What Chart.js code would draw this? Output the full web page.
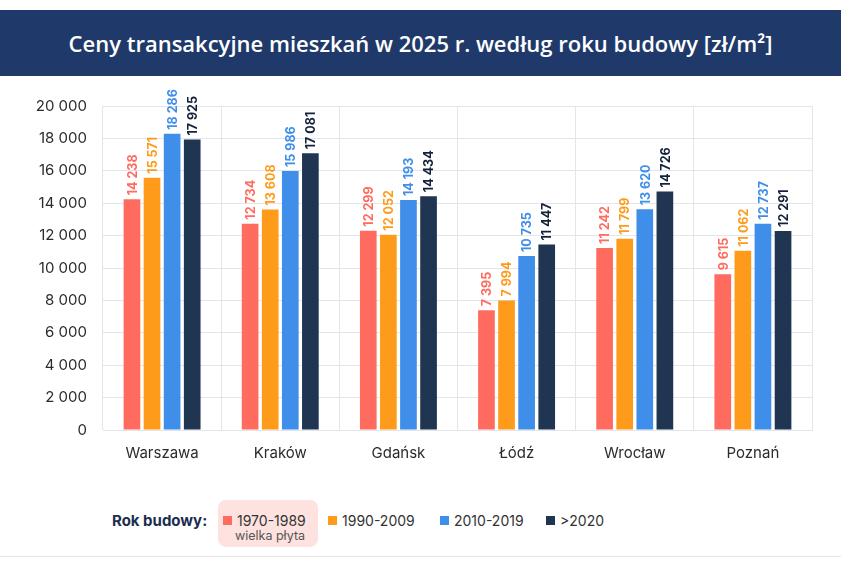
<!DOCTYPE html>
<html lang="pl">
<head>
<meta charset="utf-8">
<title>Ceny transakcyjne mieszkań</title>
<script src="https://cdn.jsdelivr.net/npm/chart.js@4/dist/chart.umd.min.js"></script>
<style>
    html, body { margin: 0; padding: 0; background: #fff; }
    body { width: 841px; height: 568px; position: relative; overflow: hidden; font-family: Inter, "Open Sans", sans-serif; }
    .header {
        position: absolute; left: 0; top: 10px; width: 841px; height: 66px;
        background: #1f3a6a; color: #fff;
        font-family: "Open Sans", sans-serif; font-weight: 600; font-size: 22px;
        display: flex; align-items: center; justify-content: center;
    }
    .chart-box { position: absolute; left: 0; top: 80px; width: 841px; height: 400px; }
    .legend { position: absolute; left: 0; top: 500px; width: 841px; height: 48px; font-size: 14px; color: #333; }
    .legend .lbl { position: absolute; left: 112px; top: 11px; font-size: 15px; font-weight: 700; color: #1c2e4f; }
    .legend .hl { position: absolute; left: 218px; top: 0; width: 100px; height: 47px; background: #fde2df; border-radius: 8px; }
    .legend .item { position: absolute; top: 12px; white-space: nowrap; }
    .legend .sq { display: inline-block; width: 9px; height: 9px; margin-right: 5px; vertical-align: 1px; }
    .legend .sub { position: absolute; left: 235px; top: 28px; font-size: 12.5px; color: #555; }
    .bottom-line { position: absolute; left: 0; top: 556px; width: 841px; height: 1px; background: #e6e6e6; }
</style>
</head>
<body>
<div class="header">Ceny transakcyjne mieszkań w 2025 r. według roku budowy [zł/m²]</div>
<div class="chart-box"><canvas id="pricesChart" width="841" height="400"></canvas></div>
<div class="legend" id="legend">
    <div class="hl"></div>
    <div class="lbl">Rok budowy:</div>
    <div class="sub">wielka płyta</div>
</div>
<div class="bottom-line"></div>

<script>
// Dane
const cities = ['Warszawa', 'Kraków', 'Gdańsk', 'Łódź', 'Wrocław', 'Poznań'];
const periods = ['1970-1989', '1990-2009', '2010-2019', '>2020'];
const prices1970 = [14238, 12734, 12299, 7395, 11242, 9615];
const prices1990 = [15571, 13608, 12052, 7994, 11799, 11062];
const prices2010 = [18286, 15986, 14193, 10735, 13620, 12737];
const prices2020 = [17925, 17081, 14434, 11447, 14726, 12291];
const seriesColors = ['#ff6b5e', '#ff9b1a', '#3f8ee9', '#1f3552'];
const labelColors = ['#ff6b5e', '#ff9b1a', '#3f8ee9', '#14213a'];
const legendX = [223, 328, 440, 546];

function formatPl(value) {
    return String(value).replace(/\B(?=(\d{3})+(?!\d))/g, ' ');
}

/**
 * Etykiety wartości nad słupkami (obrócone o 90 stopni)
 */
const barValueLabels = {
    id: 'barValueLabels',
    afterDatasetsDraw(chart) {
        const ctx = chart.ctx;
        chart.data.datasets.forEach((dataset, i) => {
            const meta = chart.getDatasetMeta(i);
            meta.data.forEach((bar, j) => {
                ctx.save();
                ctx.translate(bar.x, bar.y - 4);
                ctx.rotate(-Math.PI / 2);
                ctx.font = '700 12.5px Inter, sans-serif';
                ctx.fillStyle = labelColors[i];
                ctx.textAlign = 'left';
                ctx.textBaseline = 'middle';
                ctx.fillText(formatPl(dataset.data[j]), 0, 1);
                ctx.restore();
            });
        });
    }
};

function buildLegend() {
    const legend = document.getElementById('legend');
    periods.forEach((p, i) => {
        const item = document.createElement('div');
        item.className = 'item';
        item.style.left = legendX[i] + 'px';
        item.innerHTML = '<span class="sq" style="background:' + seriesColors[i] + '"></span>' + p;
        legend.appendChild(item);
    });
}

document.addEventListener('DOMContentLoaded', function () {
    buildLegend();
    const datasetValues = [prices1970, prices1990, prices2010, prices2020];

    new Chart(document.getElementById('pricesChart'), {
        type: 'bar',
        data: {
            labels: cities,
            datasets: periods.map((p, i) => ({
                label: p,
                data: datasetValues[i],
                backgroundColor: seriesColors[i],
                borderWidth: 0,
                categoryPercentage: 0.68,
                barPercentage: 0.83
            }))
        },
        options: {
            responsive: false,
            animation: false,
            layout: { padding: { left: 0, right: 29, top: 26, bottom: 5 } },
            scales: {
                x: {
                    grid: { color: '#e2e5eb', drawTicks: false, offset: true },
                    border: { color: '#e2e5eb' },
                    ticks: { color: '#2b2b2b', font: { size: 15, family: 'Inter' }, padding: 14 },
                    afterFit(scale) { scale.height = 45; }
                },
                y: {
                    min: 0,
                    max: 20000,
                    grid: { color: '#e2e5eb', drawTicks: false },
                    border: { display: false },
                    ticks: {
                        stepSize: 2000,
                        color: '#2b2b2b',
                        padding: 16,
                        font: { size: 15, family: 'Inter' },
                        callback: value => formatPl(value)
                    },
                    afterFit(scale) { scale.width = 103; }
                }
            },
            plugins: {
                legend: { display: false },
                tooltip: { enabled: false }
            }
        },
        plugins: [barValueLabels]
    });
});
</script>
</body>
</html>
